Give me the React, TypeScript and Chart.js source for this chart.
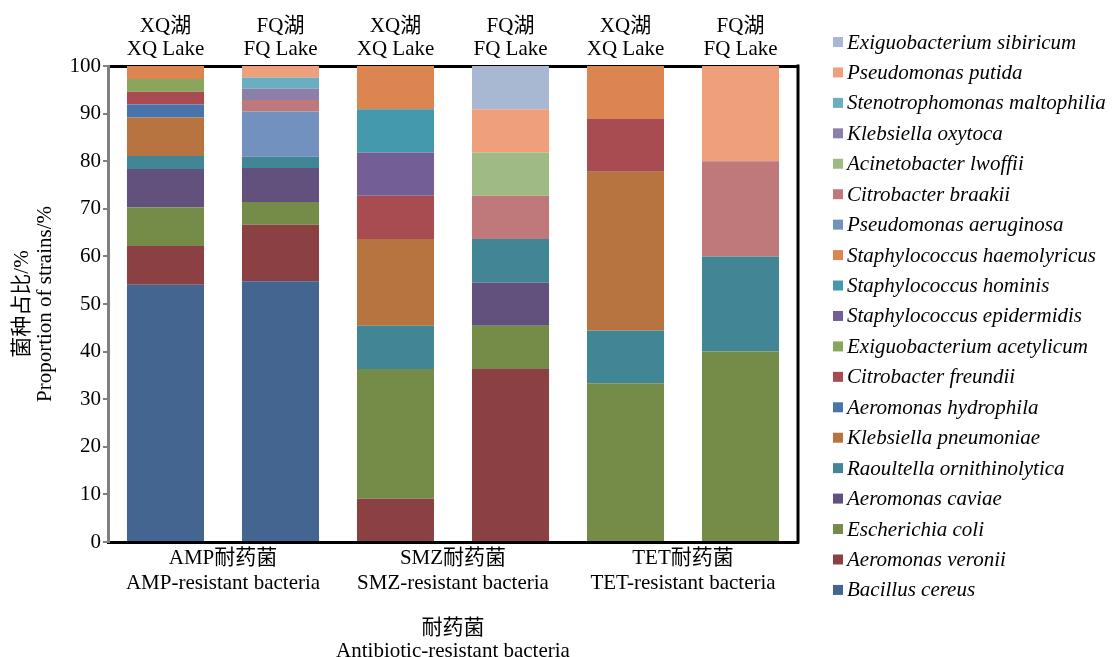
import React, { useEffect, useRef } from 'react';
import { Chart, registerables } from 'chart.js';

Chart.register(...registerables);

const FONT = '"Liberation Serif", "Noto Sans CJK SC", serif';

const categories = ['XQ-AMP', 'FQ-AMP', 'XQ-SMZ', 'FQ-SMZ', 'XQ-TET', 'FQ-TET'];
const lakeLabels = [
  ['XQ湖', 'XQ Lake'],
  ['FQ湖', 'FQ Lake'],
  ['XQ湖', 'XQ Lake'],
  ['FQ湖', 'FQ Lake'],
  ['XQ湖', 'XQ Lake'],
  ['FQ湖', 'FQ Lake'],
];
const groupLabels = [
  ['AMP耐药菌', 'AMP-resistant bacteria'],
  ['SMZ耐药菌', 'SMZ-resistant bacteria'],
  ['TET耐药菌', 'TET-resistant bacteria'],
];
const xTitle = ['耐药菌', 'Antibiotic-resistant bacteria'];
const yTitle = ['菌种占比/%', 'Proportion of strains/%'];

// Species in stacking order (bottom to top)
const species = [
  'Bacillus cereus',
  'Aeromonas veronii',
  'Escherichia coli',
  'Aeromonas caviae',
  'Raoultella ornithinolytica',
  'Klebsiella pneumoniae',
  'Aeromonas hydrophila',
  'Citrobacter freundii',
  'Exiguobacterium acetylicum',
  'Staphylococcus epidermidis',
  'Staphylococcus hominis',
  'Staphylococcus haemolyricus',
  'Pseudomonas aeruginosa',
  'Citrobacter braakii',
  'Acinetobacter lwoffii',
  'Klebsiella oxytoca',
  'Stenotrophomonas maltophilia',
  'Pseudomonas putida',
  'Exiguobacterium sibiricum',
];

// values per category: XQ-AMP, FQ-AMP, XQ-SMZ, FQ-SMZ, XQ-TET, FQ-TET
const bacillusCereus = [54.05, 54.76, 0, 0, 0, 0];
const aeromonasVeronii = [8.11, 11.9, 9.09, 36.36, 0, 0];
const escherichiaColi = [8.11, 4.76, 27.27, 9.09, 33.33, 40];
const aeromonasCaviae = [8.11, 7.14, 0, 9.09, 0, 0];
const raoultellaOrnithinolytica = [2.7, 2.38, 9.09, 9.09, 11.11, 20];
const klebsiellaPneumoniae = [8.11, 0, 18.18, 0, 33.33, 0];
const aeromonasHydrophila = [2.7, 0, 0, 0, 0, 0];
const citrobacterFreundii = [2.7, 0, 9.09, 0, 11.11, 0];
const exiguobacteriumAcetylicum = [2.7, 0, 0, 0, 0, 0];
const staphylococcusEpidermidis = [0, 0, 9.09, 0, 0, 0];
const staphylococcusHominis = [0, 0, 9.09, 0, 0, 0];
const staphylococcusHaemolyricus = [2.7, 0, 9.09, 0, 11.11, 0];
const pseudomonasAeruginosa = [0, 9.52, 0, 0, 0, 0];
const citrobacterBraakii = [0, 2.38, 0, 9.09, 0, 20];
const acinetobacterLwoffii = [0, 0, 0, 9.09, 0, 0];
const klebsiellaOxytoca = [0, 2.38, 0, 0, 0, 0];
const stenotrophomonasMaltophilia = [0, 2.38, 0, 0, 0, 0];
const pseudomonasPutida = [0, 2.38, 0, 9.09, 0, 20];
const exiguobacteriumSibiricum = [0, 0, 0, 9.09, 0, 0];

const seriesValues = [
  bacillusCereus,
  aeromonasVeronii,
  escherichiaColi,
  aeromonasCaviae,
  raoultellaOrnithinolytica,
  klebsiellaPneumoniae,
  aeromonasHydrophila,
  citrobacterFreundii,
  exiguobacteriumAcetylicum,
  staphylococcusEpidermidis,
  staphylococcusHominis,
  staphylococcusHaemolyricus,
  pseudomonasAeruginosa,
  citrobacterBraakii,
  acinetobacterLwoffii,
  klebsiellaOxytoca,
  stenotrophomonasMaltophilia,
  pseudomonasPutida,
  exiguobacteriumSibiricum,
];

const seriesColors = [
  '#43658f',
  '#8b4044',
  '#758c48',
  '#62517c',
  '#428595',
  '#b77340',
  '#4874ab',
  '#a84c51',
  '#8aa65c',
  '#735f96',
  '#4599ad',
  '#dd8550',
  '#7291bf',
  '#bf797b',
  '#a0ba84',
  '#8c80ab',
  '#6caec1',
  '#f09f7b',
  '#a8b8d3',
];

const framePlugin = {
  id: 'frame',
  afterDraw(chart: any) {
    const { ctx, chartArea } = chart;
    const { left, right, top, bottom } = chartArea;
    ctx.save();
    // right border
    ctx.strokeStyle = '#000';
    ctx.lineWidth = 3;
    ctx.beginPath();
    ctx.moveTo(right, top - 1.5);
    ctx.lineTo(right, bottom + 1.5);
    ctx.stroke();

    ctx.fillStyle = '#000';
    ctx.font = `21px ${FONT}`;
    ctx.textAlign = 'center';
    ctx.textBaseline = 'middle';

    // group labels under the axis
    const xs = chart.scales.x;
    groupLabels.forEach((lines, g) => {
      const cx = (xs.getPixelForValue(g * 2) + xs.getPixelForValue(g * 2 + 1)) / 2;
      ctx.fillText(lines[0], cx, bottom + 16);
      ctx.fillText(lines[1], cx, bottom + 41);
    });

    // x title
    const mid = (left + right) / 2;
    ctx.fillText(xTitle[0], mid, bottom + 86);
    ctx.fillText(xTitle[1], mid, bottom + 109);

    // y title
    const my = (top + bottom) / 2;
    ctx.save();
    ctx.translate(22, my);
    ctx.rotate(-Math.PI / 2);
    ctx.fillText(yTitle[0], 0, 0);
    ctx.restore();
    ctx.save();
    ctx.translate(45, my);
    ctx.rotate(-Math.PI / 2);
    ctx.fillText(yTitle[1], 0, 0);
    ctx.restore();

    // legend (top item = last series)
    ctx.font = `italic 21px ${FONT}`;
    ctx.textAlign = 'left';
    const n = species.length;
    for (let k = 0; k < n; k++) {
      const idx = n - 1 - k;
      const cy = 42 + k * 30.44;
      ctx.fillStyle = seriesColors[idx];
      ctx.fillRect(833, cy - 5, 10, 10);
      ctx.fillStyle = '#000';
      ctx.fillText(species[idx], 847, cy + 1);
    }
    ctx.restore();
  },
};

export default function App() {
  const ref = useRef<HTMLCanvasElement | null>(null);

  useEffect(() => {
    if (!ref.current) return;
    const chart = new Chart(ref.current, {
      type: 'bar',
      data: {
        labels: categories,
        datasets: species.map((name, i) => ({
          label: name,
          data: seriesValues[i].map((v) => (v === 0 ? null : v)),
          backgroundColor: seriesColors[i],
          borderWidth: 0,
          barPercentage: 0.67,
          categoryPercentage: 1,
          xAxisID: 'x',
          yAxisID: 'y',
        })),
      },
      options: {
        responsive: false,
        maintainAspectRatio: false,
        devicePixelRatio: 1,
        animation: false,
        layout: { padding: { left: 0, right: 314, top: 0, bottom: 0 } },
        plugins: {
          legend: { display: false },
          tooltip: { enabled: false },
        },
        scales: {
          x: {
            type: 'category',
            position: 'bottom',
            stacked: true,
            grid: { display: false },
            border: { display: true, color: '#000', width: 3 },
            ticks: { display: false },
            afterFit: (s: any) => {
              s.height = 115;
            },
          },
          xTop: {
            type: 'category',
            position: 'top',
            labels: lakeLabels as any,
            grid: { display: false },
            border: { display: true, color: '#000', width: 3 },
            ticks: {
              color: '#000',
              padding: -3,
              maxRotation: 0,
              autoSkip: false,
              font: { family: FONT, size: 21, lineHeight: 1.1 },
            },
            afterFit: (s: any) => {
              s.height = 66;
            },
          },
          y: {
            stacked: true,
            min: 0,
            max: 100,
            grid: {
              display: true,
              drawOnChartArea: false,
              drawTicks: true,
              tickLength: 5,
              color: '#808080',
              lineWidth: 2,
            },
            border: { display: true, color: '#808080', width: 3 },
            ticks: {
              stepSize: 10,
              color: '#000',
              padding: 2,
              font: { family: FONT, size: 21 },
            },
            afterFit: (s: any) => {
              s.width = 108;
            },
          },
        },
      },
      plugins: [framePlugin],
    });
    return () => chart.destroy();
  }, []);

  return (
    <div style={{ position: 'absolute', left: 0, top: 0, width: 1112, height: 657, background: '#fff' }}>
      <canvas ref={ref} width={1112} height={657} style={{ width: 1112, height: 657 }} />
    </div>
  );
}
